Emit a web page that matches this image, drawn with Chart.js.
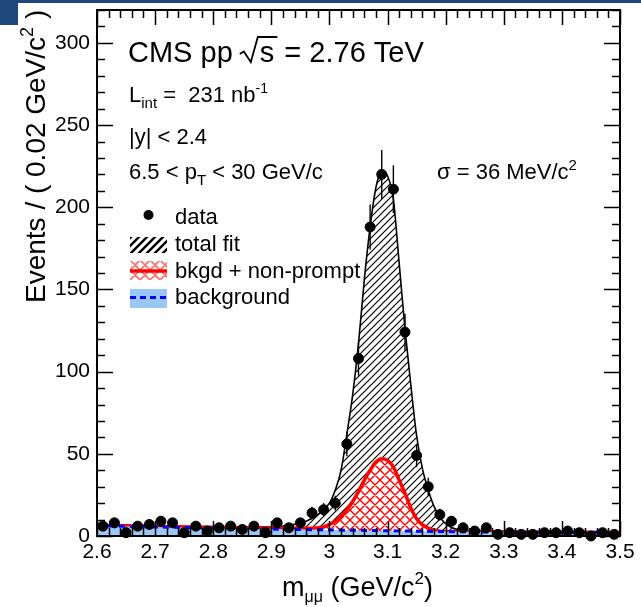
<!DOCTYPE html>
<html>
<head>
<meta charset="utf-8">
<script src="https://cdn.jsdelivr.net/npm/chart.js@4.4.1/dist/chart.umd.min.js"></script>
<style>
  html, body { margin: 0; padding: 0; background: #fff; }
  #wrap { position: relative; width: 641px; height: 607px; overflow: hidden; }
  .deco { position: absolute; background: #1f497d; }
</style>
</head>
<body>
<div id="wrap">
  <canvas id="massChart" width="641" height="607"></canvas>
  <div class="deco" style="left:0;top:0;width:641px;height:3px"></div>
  <div class="deco" style="left:0;top:0;width:18px;height:25px"></div>
</div>
<script>
// data (bin width 0.02 GeV/c^2)
const binCenters = [2.61, 2.63, 2.65, 2.67, 2.69, 2.71, 2.73, 2.75, 2.77, 2.79,
                    2.81, 2.83, 2.85, 2.87, 2.89, 2.91, 2.93, 2.95, 2.97, 2.99,
                    3.01, 3.03, 3.05, 3.07, 3.09, 3.11, 3.13, 3.15, 3.17, 3.19,
                    3.21, 3.23, 3.25, 3.27, 3.29, 3.31, 3.33, 3.35, 3.37, 3.39,
                    3.41, 3.43, 3.45, 3.47, 3.49];
const counts = [6, 8, 2, 6, 7, 9, 8, 2, 6, 3,
                5, 6, 4, 6, 2, 8, 5, 8, 14, 16,
                20, 56, 108, 188, 220, 211, 124, 49, 30, 13,
                9, 5, 3, 5, 1, 2, 1, 1, 2, 2,
                3, 2, 0, 2, 1];

// total fit curve
const totalFitX = [2.60, 2.70, 2.80, 2.90, 2.94, 2.96, 2.98, 3.00, 3.01, 3.02,
                   3.03, 3.04, 3.05, 3.06, 3.07, 3.08, 3.09, 3.10, 3.11, 3.12,
                   3.13, 3.14, 3.15, 3.16, 3.17, 3.18, 3.19, 3.20, 3.21, 3.22,
                   3.25, 3.30, 3.40, 3.50];
const totalFitY = [6.6, 6.0, 5.5, 5.6, 7.2, 9.0, 13, 20, 28, 40,
                   62, 86, 117, 156, 188, 212, 222, 219, 205, 166,
                   126, 92, 61, 41, 28, 18, 11.5, 7.5, 5.2, 4.0,
                   3.1, 2.7, 2.4, 2.2];

// bkgd + non-prompt
const nonPromptX = [2.60, 2.70, 2.80, 2.90, 2.96, 2.99, 3.00, 3.01, 3.02, 3.03,
                    3.04, 3.05, 3.06, 3.07, 3.08, 3.09, 3.10, 3.11, 3.12, 3.13,
                    3.14, 3.15, 3.16, 3.17, 3.18, 3.19, 3.20, 3.22, 3.30, 3.40, 3.50];
const nonPromptY = [6.5, 5.9, 5.3, 4.8, 4.7, 5.5, 7, 9, 12, 16,
                    21, 27, 34, 40, 45, 47, 46, 42, 34, 26,
                    17, 10.5, 6.8, 4.8, 3.5, 2.9, 2.7, 2.6, 2.5, 2.3, 2.2];

// background only
const bkgX = [2.60, 2.70, 2.80, 2.90, 3.00, 3.10, 3.20, 3.30, 3.40, 3.50];
const bkgY = [6.3, 5.5, 4.8, 4.2, 3.7, 3.2, 2.7, 2.4, 2.2, 2.0];

const xTickValues = [2.6, 2.7, 2.8, 2.9, 3.0, 3.1, 3.2, 3.3, 3.4, 3.5];
const xTickLabels = ['2.6', '2.7', '2.8', '2.9', '3', '3.1', '3.2', '3.3', '3.4', '3.5'];
const yTickValues = [0, 50, 100, 150, 200, 250, 300];
const yTickLabels = ['0', '50', '100', '150', '200', '250', '300'];

const FONT = "'Liberation Sans', Arial, Helvetica, sans-serif";

function toXY(xs, ys) {
    return xs.map((x, i) => ({ x: x, y: ys[i] }));
}

// diagonal hatch tiles ("/" and/or "\")
function makeHatch(size, color, width, cross, bg) {
    const c = document.createElement('canvas');
    c.width = size; c.height = size;
    const g = c.getContext('2d');
    if (bg) { g.fillStyle = bg; g.fillRect(0, 0, size, size); }
    g.strokeStyle = color;
    g.lineWidth = width;
    g.beginPath();
    g.moveTo(0, size); g.lineTo(size, 0);
    g.moveTo(-2, 2); g.lineTo(2, -2);
    g.moveTo(size - 2, size + 2); g.lineTo(size + 2, size - 2);
    if (cross) {
        g.moveTo(0, 0); g.lineTo(size, size);
        g.moveTo(-2, size - 2); g.lineTo(2, size + 2);
        g.moveTo(size - 2, -2); g.lineTo(size + 2, 2);
    }
    g.stroke();
    return g.createPattern(c, 'repeat');
}

const hatchBlack = makeHatch(7, '#000', 1.2, false, null);
const hatchRed = makeHatch(10, '#ff0000', 1.4, true, '#ffffff');
const hatchBlackLeg = makeHatch(8, '#000', 2.4, false, null);
const hatchRedLeg = makeHatch(10, '#ff7070', 1.7, true, '#ffffff');

function drawRuns(ctx, runs, x, y) {
    let cx = x;
    runs.forEach(r => {
        ctx.font = r[1] + 'px ' + FONT;
        ctx.fillText(r[0], cx, y + (r[2] || 0));
        cx += ctx.measureText(r[0]).width;
    });
    return cx;
}

// error bars sqrt(N) for data points
const errorBars = {
    id: 'errorBars',
    afterDatasetsDraw(chart) {
        const ctx = chart.ctx;
        const xs = chart.scales.x, ys = chart.scales.y;
        ctx.save();
        ctx.strokeStyle = '#000';
        ctx.lineWidth = 1.4;
        binCenters.forEach((m, i) => {
            const n = counts[i];
            if (n <= 0) return;
            const e = Math.sqrt(n);
            const px = xs.getPixelForValue(m);
            ctx.beginPath();
            ctx.moveTo(px, ys.getPixelForValue(n - e));
            ctx.lineTo(px, ys.getPixelForValue(n + e));
            ctx.stroke();
        });
        ctx.restore();
    }
};

// frame with inward ticks on all four sides
const frameTicks = {
    id: 'frameTicks',
    afterDatasetsDraw(chart) {
        const ctx = chart.ctx;
        const a = chart.chartArea;
        const xs = chart.scales.x, ys = chart.scales.y;
        ctx.save();
        ctx.strokeStyle = '#000';
        ctx.lineWidth = 1.5;
        ctx.beginPath();
        for (let k = 0; k <= 45; k++) {
            const v = 2.6 + k * 0.02;
            const px = Math.round(xs.getPixelForValue(v)) + 0.5;
            const len = (k % 5 === 0) ? 15 : 8;
            ctx.moveTo(px, a.bottom); ctx.lineTo(px, a.bottom - len);
            ctx.moveTo(px, a.top); ctx.lineTo(px, a.top + len);
        }
        for (let v = 0; v <= 320; v += 10) {
            const py = Math.round(ys.getPixelForValue(v)) + 0.5;
            const len = (v % 50 === 0) ? 16 : 8;
            ctx.moveTo(a.left, py); ctx.lineTo(a.left + len, py);
            ctx.moveTo(a.right, py); ctx.lineTo(a.right - len, py);
        }
        ctx.stroke();
        ctx.lineWidth = 2;
        ctx.strokeRect(a.left, a.top, a.right - a.left, a.bottom - a.top);
        ctx.restore();
    }
};

// labels, legend and axis titles
const annotations = {
    id: 'annotations',
    afterDraw(chart) {
        const ctx = chart.ctx;
        ctx.save();
        ctx.fillStyle = '#000';
        ctx.textBaseline = 'alphabetic';
        ctx.textAlign = 'left';

        // CMS pp sqrt(s) = 2.76 TeV
        let x = drawRuns(ctx, [['CMS pp ', 29]], 128, 62);
        ctx.strokeStyle = '#000';
        ctx.lineWidth = 1.8;
        ctx.font = '29px ' + FONT;
        const sw = ctx.measureText('s').width;
        ctx.beginPath();
        ctx.moveTo(x - 1, 54); ctx.lineTo(x + 3, 51.5);
        ctx.lineTo(x + 10, 62); ctx.lineTo(x + 17, 37);
        ctx.lineTo(x + 20 + sw + 2, 37);
        ctx.stroke();
        x = drawRuns(ctx, [['s', 29]], x + 19, 62);
        drawRuns(ctx, [[' = 2.76 TeV', 29]], x + 2, 62);

        drawRuns(ctx, [['L', 22], ['int', 15, 6], [' =  231 nb', 22], ['-1', 14, -9]], 129, 102);
        drawRuns(ctx, [['|y| < 2.4', 22]], 129, 144);
        drawRuns(ctx, [['6.5 < p', 22], ['T', 15, 6], [' < 30 GeV/c', 22]], 129, 179);
        drawRuns(ctx, [['\u03c3 = 36 MeV/c', 22], ['2', 15, -9]], 437, 179);

        // legend
        ctx.beginPath();
        ctx.arc(148.5, 215, 5, 0, Math.PI * 2);
        ctx.fill();
        drawRuns(ctx, [['data', 22]], 175, 223.5);

        ctx.fillStyle = hatchBlackLeg;
        ctx.fillRect(130, 237, 37, 16);
        ctx.fillStyle = '#000';
        drawRuns(ctx, [['total fit', 22]], 175, 250.5);

        ctx.fillStyle = hatchRedLeg;
        ctx.fillRect(130, 261, 37, 19);
        ctx.strokeStyle = '#ff0000';
        ctx.lineWidth = 3.5;
        ctx.beginPath(); ctx.moveTo(130, 271); ctx.lineTo(167, 271); ctx.stroke();
        ctx.fillStyle = '#000';
        drawRuns(ctx, [['bkgd + non-prompt', 22]], 175, 277.5);

        ctx.fillStyle = '#99c8f7';
        ctx.fillRect(130, 289, 37, 19);
        ctx.strokeStyle = '#0000ff';
        ctx.lineWidth = 3;
        ctx.setLineDash([6, 4]);
        ctx.beginPath(); ctx.moveTo(130, 297.5); ctx.lineTo(167, 297.5); ctx.stroke();
        ctx.setLineDash([]);
        ctx.fillStyle = '#000';
        drawRuns(ctx, [['background', 22]], 175, 304);

        // axis titles
        drawRuns(ctx, [['m', 27], ['\u03bc\u03bc', 16, 6], [' (GeV/c', 27], ['2', 17, -12], [')', 27]], 282, 596);
        ctx.translate(45, 303);
        ctx.rotate(-Math.PI / 2);
        drawRuns(ctx, [['Events / ( 0.02 GeV/c', 28], ['2', 18, -12], [' )', 28]], 0, 0);
        ctx.restore();
    }
};

let massChart;

document.addEventListener('DOMContentLoaded', () => {
    const ctx = document.getElementById('massChart').getContext('2d');
    massChart = new Chart(ctx, {
        type: 'scatter',
        data: {
            datasets: [
                {
                    label: 'data',
                    data: toXY(binCenters, counts),
                    backgroundColor: '#000',
                    borderColor: '#000',
                    pointRadius: 5,
                    clip: false,
                    order: 0
                },
                {
                    type: 'line',
                    label: 'background',
                    data: toXY(bkgX, bkgY),
                    borderColor: '#0000ff',
                    borderWidth: 3,
                    borderDash: [6, 5],
                    backgroundColor: '#99c8f7',
                    fill: 'origin',
                    pointRadius: 0,
                    tension: 0.3,
                    order: 1
                },
                {
                    type: 'line',
                    label: 'bkgd + non-prompt',
                    data: toXY(nonPromptX, nonPromptY),
                    borderColor: '#ff0000',
                    borderWidth: 3.5,
                    backgroundColor: hatchRed,
                    fill: 'origin',
                    pointRadius: 0,
                    cubicInterpolationMode: 'monotone',
                    order: 2
                },
                {
                    type: 'line',
                    label: 'total fit',
                    data: toXY(totalFitX, totalFitY),
                    borderColor: '#000',
                    borderWidth: 1.6,
                    backgroundColor: hatchBlack,
                    fill: 'origin',
                    pointRadius: 0,
                    cubicInterpolationMode: 'monotone',
                    order: 3
                }
            ]
        },
        options: {
            responsive: false,
            animation: false,
            layout: { padding: { top: 10, right: 21, left: 0, bottom: 0 } },
            plugins: {
                legend: { display: false },
                tooltip: { enabled: false },
                title: { display: false }
            },
            events: [],
            scales: {
                x: {
                    type: 'linear',
                    min: 2.6,
                    max: 3.5,
                    grid: { display: false, drawTicks: false },
                    border: { display: false },
                    afterBuildTicks: s => { s.ticks = xTickValues.map(v => ({ value: v })); },
                    afterFit: s => { s.height = 71; s.paddingLeft = 0; s.paddingRight = 0; },
                    ticks: {
                        padding: 4,
                        color: '#000',
                        font: { family: FONT, size: 21 },
                        maxRotation: 0,
                        autoSkip: false,
                        callback: (v, i) => xTickLabels[i]
                    }
                },
                y: {
                    min: 0,
                    max: 320,
                    grid: { display: false, drawTicks: false },
                    border: { display: false },
                    afterBuildTicks: s => { s.ticks = yTickValues.map(v => ({ value: v })); },
                    afterFit: s => { s.width = 97; s.paddingTop = 0; s.paddingBottom = 0; },
                    ticks: {
                        padding: 7,
                        color: '#000',
                        font: { family: FONT, size: 21 },
                        autoSkip: false,
                        callback: (v, i) => yTickLabels[i]
                    }
                }
            }
        },
        plugins: [errorBars, frameTicks, annotations]
    });
});
</script>
</body>
</html>
